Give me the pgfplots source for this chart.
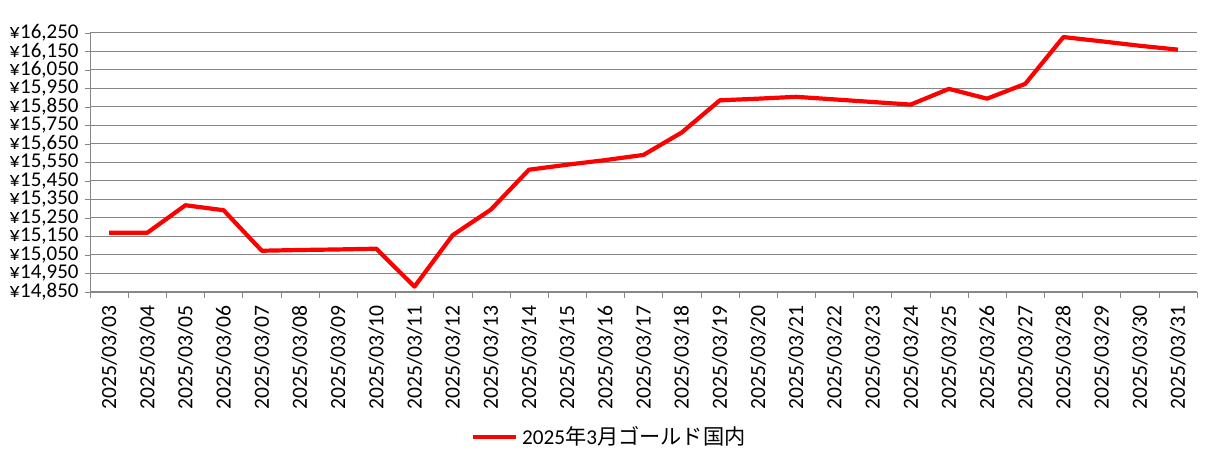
\documentclass[border=0pt]{standalone}
\usepackage{fontspec}
\setmainfont{Carlito}
\newfontfamily\cjk{Noto Sans CJK JP}
\usepackage{pgfplots}
\pgfplotsset{compat=1.18}
\definecolor{gridgray}{RGB}{134,134,134}
\begin{document}
\fontsize{10.5}{12}\selectfont
\begin{tikzpicture}
\begin{axis}[
  at={(0,0)}, anchor=south west,
  scale only axis,
  width=553.5pt, height=129.5pt,
  xmin=-0.5, xmax=28.5,
  ymin=14850, ymax=16250,
  scaled y ticks=false,
  axis lines*=left,
  axis line style={draw=gridgray, -},
  ymajorgrids,
  grid style={draw=gridgray, line width=0.5pt},
  tick align=outside,
  major tick length=2.5pt,
  minor tick length=3pt,
  major x tick style={draw=none},
  minor x tick style={draw=gridgray},
  major y tick style={draw=gridgray},
  xtick={0,...,28},
  minor xtick={-0.5,0.5,...,28.5},
  xticklabels={2025/03/03,2025/03/04,2025/03/05,2025/03/06,2025/03/07,2025/03/08,2025/03/09,2025/03/10,2025/03/11,2025/03/12,2025/03/13,2025/03/14,2025/03/15,2025/03/16,2025/03/17,2025/03/18,2025/03/19,2025/03/20,2025/03/21,2025/03/22,2025/03/23,2025/03/24,2025/03/25,2025/03/26,2025/03/27,2025/03/28,2025/03/29,2025/03/30,2025/03/31},
  xticklabel style={rotate=90, anchor=east, inner sep=0pt, xshift=-4pt, font=\fontsize{10.8}{12}\selectfont},
  ytick={14850,14950,...,16250},
  yticklabels={{¥14,850},{¥14,950},{¥15,050},{¥15,150},{¥15,250},{¥15,350},{¥15,450},{¥15,550},{¥15,650},{¥15,750},{¥15,850},{¥15,950},{¥16,050},{¥16,150},{¥16,250}},
  yticklabel style={anchor=east, inner sep=0pt, xshift=-3pt, font=\fontsize{10.5}{11}\selectfont},
  legend style={draw=none, at={(0.470,-0.56)}, anchor=center, inner sep=0pt,
    legend cell align=left, font=\fontsize{10.6}{13}\selectfont},
  legend image code/.code={\draw[#1] (0pt,0pt) -- (21.5pt,0pt);},
]
\addplot[red, line width=2.1pt, line join=round] coordinates {
  (0,15170) (1,15170) (2,15319) (3,15292) (4,15073) (5,15077) (6,15080)
  (7,15084) (8,14879) (9,15157) (10,15295) (11,15511) (12,15538) (13,15563)
  (14,15591) (15,15712) (16,15886) (17,15895) (18,15905) (19,15891) (20,15877)
  (21,15863) (22,15948) (23,15895) (24,15975) (25,16228) (26,16205) (27,16181)
  (28,16160)
};
\addlegendentry{2025{\cjk 年}3{\cjk 月ゴールド国内}}
\end{axis}
\pgfresetboundingbox
\useasboundingbox (-45pt,-89pt) rectangle (565.5pt,146pt);
\end{tikzpicture}
\end{document}
